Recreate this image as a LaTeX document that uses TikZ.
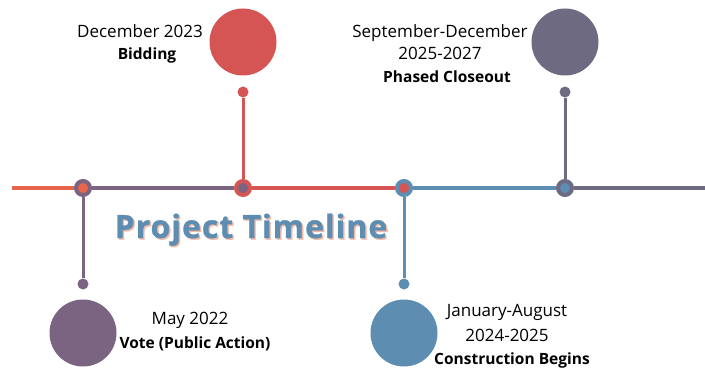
\documentclass[tikz,border=0pt]{standalone}
\usepackage{fontspec}
\setmainfont{Open Sans}
\usetikzlibrary{positioning}

\definecolor{tlorange}{HTML}{E8654B}
\definecolor{tlpurple}{HTML}{7B6481}
\definecolor{tlred}{HTML}{D55555}
\definecolor{tlblue}{HTML}{5D8DB0}
\definecolor{tlslate}{HTML}{6D6A82}
\definecolor{tlshadow}{HTML}{F2B8A6}

\begin{document}
\begin{tikzpicture}[x=1pt, y=-1pt,
    ring/.style={circle, line width=4pt, minimum size=14pt, inner sep=0pt},
    dot/.style={circle, minimum size=11pt, inner sep=0pt},
    bigdot/.style={circle, minimum size=67pt, inner sep=0pt},
    stem/.style={line width=3pt},
    track/.style={line width=4pt},
    datetxt/.style={anchor=base, inner sep=0pt, font=\fontsize{17}{22}\selectfont},
    eventtxt/.style={anchor=base, inner sep=0pt, font=\fontsize{15.5}{20}\selectfont\bfseries},
    titletxt/.style={anchor=base, inner sep=0pt,
      font=\fontsize{32}{36}\selectfont\bfseries\addfontfeatures{LetterSpace=3,FakeBold=1}}]
        \useasboundingbox (0,0) rectangle (705,369);

        % milestones on the line
        \node [ring, draw=tlpurple, fill=tlorange] (m1) at (83,188) {};
        \node [ring, draw=tlred, fill=tlpurple] (m2) at (243,188) {};
        \node [ring, draw=tlblue, fill=tlred] (m3) at (404,188) {};
        \node [ring, draw=tlslate, fill=tlblue] (m4) at (565,188) {};
        \coordinate (start) at (12,188);
        \coordinate (stop) at (705,188);

        \draw [track, tlorange] (start) -- (m1);
        \draw [track, tlpurple] (m1) -- (m2);
        \draw [track, tlred] (m2) -- (m3);
        \draw [track, tlblue] (m3) -- (m4);
        \draw [track, tlslate] (m4) -- (stop);

        % stems and circles
        \node [dot, fill=tlpurple] (d1) at (83,284) {};
        \node [dot, fill=tlred] (d2) at (243,92) {};
        \node [dot, fill=tlblue] (d3) at (404,284) {};
        \node [dot, fill=tlslate] (d4) at (565,92) {};
        \draw [stem, tlpurple] (m1) -- (d1);
        \draw [stem, tlred] (m2) -- (d2);
        \draw [stem, tlblue] (m3) -- (d3);
        \draw [stem, tlslate] (m4) -- (d4);

        \node [bigdot, fill=tlpurple] (c1) at (83,333) {};
        \node [bigdot, fill=tlred] (c2) at (243,42) {};
        \node [bigdot, fill=tlblue] (c3) at (404,333) {};
        \node [bigdot, fill=tlslate] (c4) at (565,42) {};

        % labels
        \node [datetxt] (dec) at (140,38) {December 2023};
        \node [eventtxt] (bid) at (147,60) {Bidding};
        \node [datetxt] (sep) at (440,38) {September-December};
        \node [datetxt] (sepyr) at (440,60) {2025-2027};
        \node [eventtxt] (close) at (447,83) {Phased Closeout};
        \node [datetxt] (may) at (190,324) {May 2022};
        \node [eventtxt] (vote) at (195,348) {Vote (Public Action)};
        \node [datetxt] (jan) at (507,316) {January-August};
        \node [datetxt] (janyr) at (507,341) {2024-2025};
        \node [eventtxt] (build) at (512,364) {Construction Begins};

        % title
        \node [titletxt, tlshadow] (titleshade) at (252.5,239.5) {Project Timeline};
        \node [titletxt, tlblue] (title) at (251,238) {Project Timeline};

\end{tikzpicture}
\end{document}
